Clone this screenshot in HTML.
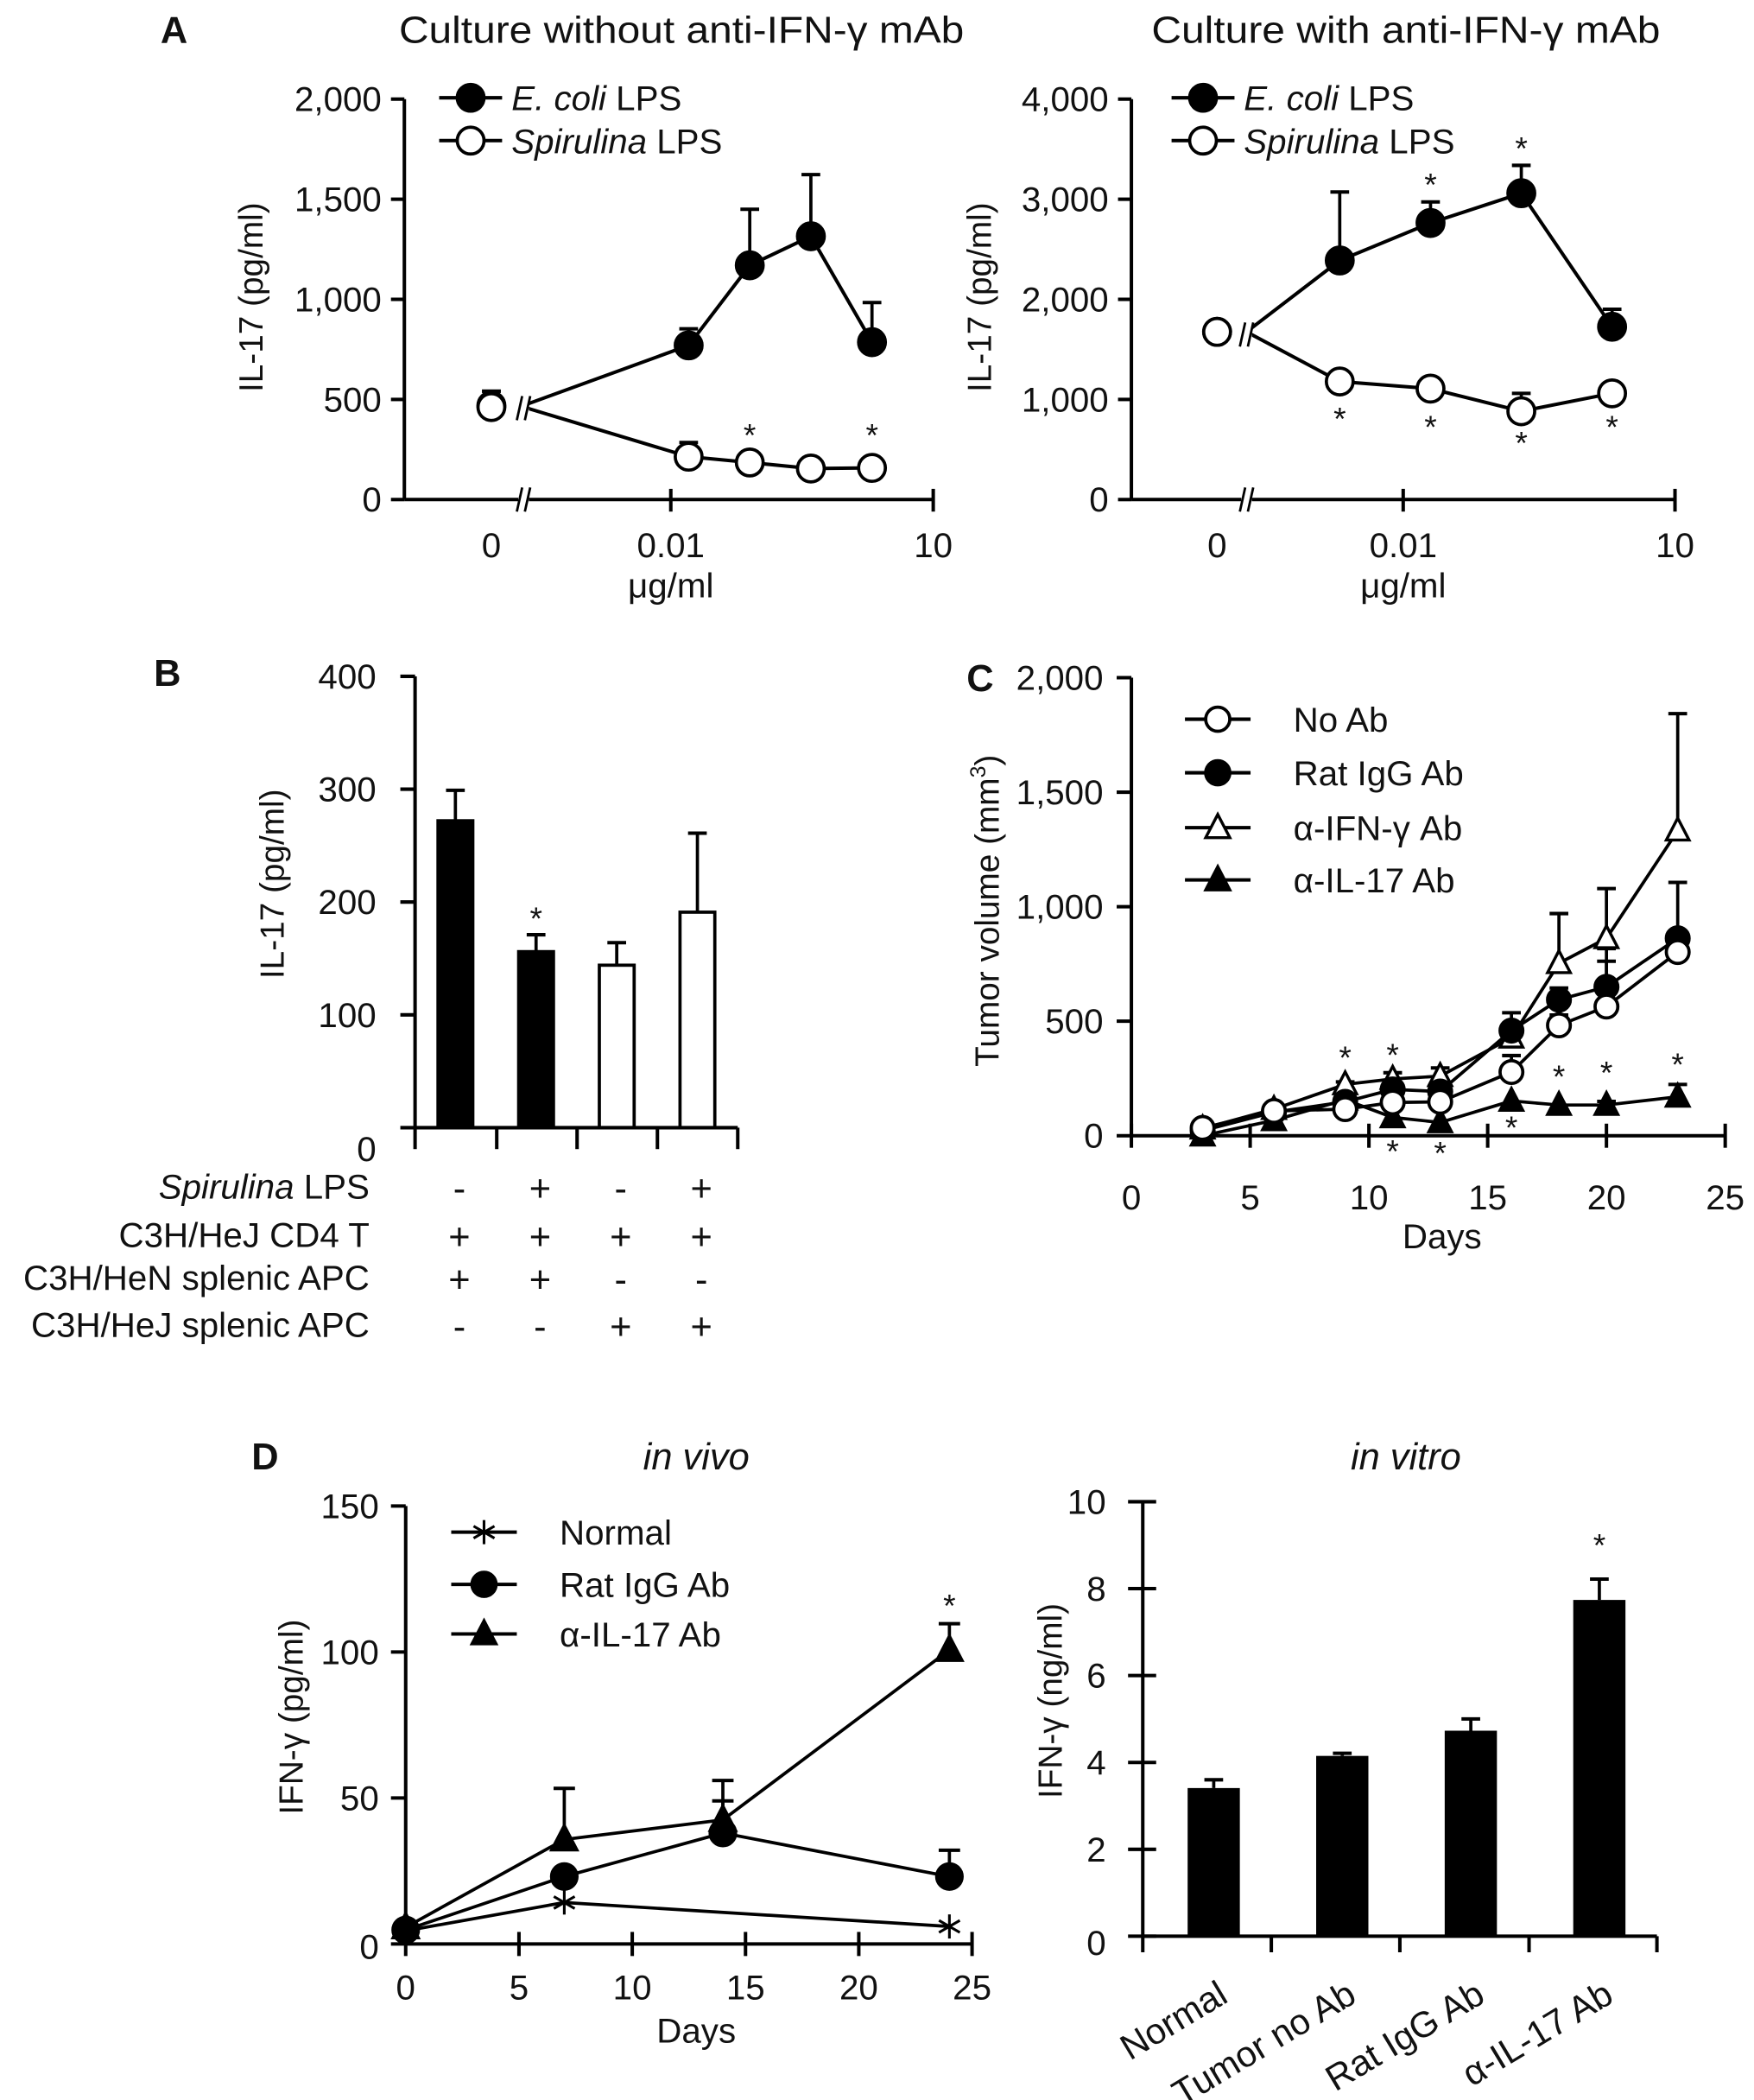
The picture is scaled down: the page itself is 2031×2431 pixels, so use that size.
<!DOCTYPE html>
<html><head><meta charset="utf-8"><style>
html,body{margin:0;padding:0;background:#fff;}
svg{display:block;}
text{font-family:"Liberation Sans",sans-serif;fill:#111;}
</style></head><body>
<svg id="fig" xmlns="http://www.w3.org/2000/svg" width="2031" height="2431" viewBox="0 0 1310 1568"></svg>
<script>
// ---------- Panel A data ----------
const aDoses = [0, 0.016, 0.08, 0.4, 2];
const aLeftEcoli = [470, 770, 1170, 1315, 786];
const aLeftEcoliErr = [541, 853, 1450, 1623, 984];
const aLeftSpir = [462, 214, 185, 155, 158];
const aLeftSpirErr = [541, 285, 185, 194, 158];
const aLeftTicks = [0, 500, 1000, 1500, 2000];
const aLeftTickLabels = ["0", "500", "1,000", "1,500", "2,000"];
const aRightDoses = [0, 0.002, 0.02, 0.2, 2];
const aRightEcoli = [1675, 2388, 2763, 3060, 1726];
const aRightEcoliErr = [1675, 3072, 2973, 3338, 1901];
const aRightSpir = [1675, 1179, 1108, 882, 1061];
const aRightSpirErr = [1675, 1179, 1108, 1061, 1160];
const aRightTicks = [0, 1000, 2000, 3000, 4000];
const aRightTickLabels = ["0", "1,000", "2,000", "3,000", "4,000"];
// ---------- Panel B data ----------
const bValues = [272, 156, 144, 191];
const bErr = [299, 171, 164, 261];
const bFill = ["#000", "#000", "#fff", "#fff"];
const bTicks = [0, 100, 200, 300, 400];
const bRowLabels = ["Spirulina LPS", "C3H/HeJ CD4 T", "C3H/HeN splenic APC", "C3H/HeJ splenic APC"];
const bSigns = [["-","+","-","+"],["+","+","+","+"],["+","+","-","-"],["-","-","+","+"]];
// ---------- Panel C data ----------
const cDays = [3, 6, 9, 11, 13, 16, 18, 20, 23];
const cNoAb = [34, 108, 116, 145, 148, 278, 482, 564, 802];
const cNoAbErr = [34, 108, 116, 145, 148, 350, 527, 762, 802];
const cRat = [22, 103, 148, 202, 193, 459, 594, 650, 862];
const cRatErr = [22, 103, 148, 202, 193, 537, 645, 817, 1106];
const cIfn = [31, 116, 224, 248, 260, 428, 753, 862, 1332];
const cIfnErr = [31, 116, 235, 275, 296, 428, 970, 1079, 1843];
const cIl17 = [0, 67, 157, 80, 58, 152, 134, 134, 170];
const cIl17Err = [0, 67, 157, 80, 58, 152, 134, 150, 224];
const cTicks = [0, 500, 1000, 1500, 2000];
const cTickLabels = ["0", "500", "1,000", "1,500", "2,000"];
const cXTicks = [0, 5, 10, 15, 20, 25];
// ---------- Panel D data ----------
const dDays = [0, 7, 14, 24];
const dNormalDays = [0, 7, 24];
const dNormal = [4.5, 14.2, 6];
const dRat = [4.8, 23.1, 38, 23.1];
const dRatErr = [4.8, 23.1, 49, 32.1];
const dIl17 = [5.7, 35.8, 42.5, 100.7];
const dIl17Err = [5.7, 53.3, 56, 109.7];
const dTicks = [0, 50, 100, 150];
const dXTicks = [0, 5, 10, 15, 20, 25];
const dBarCats = ["Normal", "Tumor no Ab", "Rat IgG Ab", "α-IL-17 Ab"];
const dBarValues = [3.41, 4.15, 4.73, 7.74];
const dBarErr = [3.6, 4.21, 5.0, 8.22];
const dBarTicks = [0, 2, 4, 6, 8, 10];

const FT = 26;   // tick font
const FA = 25;   // axis title font
const FL = 26;   // legend font
const NS = "http://www.w3.org/2000/svg";
const svg = document.getElementById("fig");
function el(tag, attrs, parent) {
  const e = document.createElementNS(NS, tag);
  for (const k in attrs) e.setAttribute(k, attrs[k]);
  (parent || svg).appendChild(e);
  return e;
}
function grp(name) {
  const g = el("g", {});
  
  
  return g;
}
function ln(g, x1, y1, x2, y2, w) {
  return el("line", {x1, y1, x2, y2, stroke: "#000", "stroke-width": w || 2.6}, g);
}
function tx(g, x, y, s, size, anchor, extra) {
  const t = el("text", Object.assign({x, y, "font-size": size, "text-anchor": anchor || "start"}, extra || {}), g);
  t.textContent = s;
  return t;
}
function marker(g, type, x, y, r) {
  if (type === "open" || type === "filled") {
    el("circle", {cx: x, cy: y, r, fill: type === "filled" ? "#000" : "#fff", stroke: "#000", "stroke-width": 2.4}, g);
  } else if (type === "otri" || type === "ftri") {
    const h = r * 1.1;
    el("polygon", {points: `${x},${y - h} ${x - r},${y + h * 0.75} ${x + r},${y + h * 0.75}`, fill: type === "ftri" ? "#000" : "#fff", stroke: "#000", "stroke-width": 2.2}, g);
  } else if (type === "star") {
    for (let a = 0; a < 180; a += 60) {
      const rad = a * Math.PI / 180;
      ln(g, x - r * Math.cos(rad + Math.PI/2), y - r * Math.sin(rad + Math.PI/2), x + r * Math.cos(rad + Math.PI/2), y + r * Math.sin(rad + Math.PI/2), 2);
    }
  }
}
function errBar(g, x, y, yt, cap) {
  if (Math.abs(y - yt) < 0.5) return;
  ln(g, x, y, x, yt, 2.4);
  ln(g, x - cap, yt, x + cap, yt, 2.6);
}
function star(g, x, y) { tx(g, x, y, "*", 24, "middle"); }
function legendItem(g, x1, x2, y, type, r, label, lx, size, italicPart) {
  ln(g, x1, y, x2, y, 2.6);
  marker(g, type, (x1 + x2) / 2, y, r);
  const t = el("text", {x: lx, y: y + size * 0.36, "font-size": size}, g);
  if (italicPart) {
    const a = el("tspan", {"font-style": "italic"}, t); a.textContent = italicPart;
    const b = el("tspan", {}, t); b.textContent = label;
  } else t.textContent = label;
}
function brk(g, x, y) {
  el("rect", {x: x - 4, y: y - 9, width: 8, height: 18, fill: "#fff"}, g);
  ln(g, x - 5, y + 9, x - 1, y - 9, 1.8);
  ln(g, x + 1, y + 9, x + 5, y - 9, 1.8);
}

// ===== Panel A =====
function panelA(name, o) {
  const g = grp(name);
  const ax = o.ax, y0 = o.y0, yTop = o.yTop, max = o.max;
  const ys = v => y0 - v / max * (y0 - yTop);
  const xs = d => d === 0 ? o.x0 : o.x001 + (Math.log10(d) + 2) * o.dec;
  tx(g, o.titleX, 32, o.title, 28, "middle", {textLength: o.titleW, lengthAdjust: "spacingAndGlyphs"});
  tx(g, o.ytx, o.yty, "IL-17 (pg/ml)", FA, "middle", {transform: `rotate(-90 ${o.ytx} ${o.yty})`});
  ln(g, ax, yTop, ax, y0);
  o.ticks.forEach((v, i) => {
    ln(g, ax - 10, ys(v), ax, ys(v));
    tx(g, ax - 17, ys(v) + 9, o.tickLabels[i], FT, "end");
  });
  ln(g, ax, y0, o.xEnd, y0);
  [o.x001, o.xEnd].forEach(x => ln(g, x, y0 - 8, x, y0 + 9));
  brk(g, o.brkX, y0);
  tx(g, o.x0, y0 + 43, "0", FT, "middle");
  tx(g, o.x001, y0 + 43, "0.01", FT, "middle");
  tx(g, o.xEnd, y0 + 43, "10", FT, "middle");
  tx(g, (o.x001), y0 + 73, "μg/ml", FT, "middle");
  [[o.ec, o.ecErr, "filled"], [o.sp, o.spErr, "open"]].forEach(([vals, errs, type]) => {
    const sg = el("g", {}, g);
    
    
    let pts = [[o.brkX, ys(vals[0])]];
    for (let i = 1; i < vals.length; i++) pts.push([xs(o.doses[i]), ys(vals[i])]);
    el("polyline", {points: pts.map(p => p.join(",")).join(" "), fill: "none", stroke: "#000", "stroke-width": 2.6}, sg);
    for (let i = 0; i < vals.length; i++) errBar(sg, xs(o.doses[i]), ys(vals[i]), ys(errs[i]), 7);
    for (let i = 0; i < vals.length; i++) marker(sg, type, xs(o.doses[i]), ys(vals[i]), 10);
  });
  brk(g, o.brkX, ys(o.ec[0]) + 2);
  o.stars.forEach(s => star(g, xs(o.doses[s[0]]), s[1]));
  legendItem(g, o.lx, o.lx + 47, 73, "filled", 10, " LPS", o.lx + 54, FL, "E. coli");
  legendItem(g, o.lx, o.lx + 47, 105, "open", 10, " LPS", o.lx + 54, FL, "Spirulina");
}
tx(svg, 130, 32, "A", 28, "middle", {"font-weight": "bold"});
panelA("panel-a-without-antibody", {ax: 302, y0: 373, yTop: 74, max: 2000, x0: 367, x001: 501, dec: 65.3, xEnd: 697, brkX: 391,
  title: "Culture without anti-IFN-γ mAb", titleX: 509, titleW: 422, ytx: 196, yty: 222, ticks: aLeftTicks, tickLabels: aLeftTickLabels,
  doses: aDoses, ec: aLeftEcoli, ecErr: aLeftEcoliErr, sp: aLeftSpir, spErr: aLeftSpirErr, stars: [[2, 333], [4, 333]], lx: 328});
panelA("panel-a-with-antibody", {ax: 845, y0: 373, yTop: 74, max: 4000, x0: 909, x001: 1048, dec: 67.8, xEnd: 1251, brkX: 931,
  title: "Culture with anti-IFN-γ mAb", titleX: 1050, titleW: 380, ytx: 740, yty: 222, ticks: aRightTicks, tickLabels: aRightTickLabels,
  doses: aRightDoses, ec: aRightEcoli, ecErr: aRightEcoliErr, sp: aRightSpir, spErr: aRightSpirErr,
  stars: [[2, 146], [3, 119], [1, 321], [2, 327], [3, 339], [4, 327]], lx: 875});

// ===== Panel B =====
(function () {
  const g = grp("panel-b-bar-chart");
  const ax = 310, y0 = 842, yTop = 505, max = 400;
  const ys = v => y0 - v / max * (y0 - yTop);
  const tickX = [310, 371, 431, 491, 551];
  const slot = (tickX[4] - tickX[0]) / 4;
  tx(g, 125, 512, "B", 28, "middle", {"font-weight": "bold"});
  ln(g, ax, yTop, ax, y0);
  bTicks.forEach(v => {
    ln(g, ax - 11, ys(v), ax, ys(v));
    tx(g, 281, ys(v) + (v === 0 ? 25 : 9), String(v), FT, "end");
  });
  tx(g, 212, 660, "IL-17  (pg/ml)", FA, "middle", {transform: "rotate(-90 212 660)"});
  bValues.forEach((v, i) => {
    const cx = tickX[0] + slot * (i + 0.5);
    const r = el("rect", {x: cx - 13, y: ys(v), width: 26, height: y0 - ys(v), fill: bFill[i], stroke: "#000", "stroke-width": 2.4}, g);
    
    
    errBar(g, cx, ys(v), ys(bErr[i]), 7);
  });
  star(g, tickX[0] + slot * 1.5, 694);
  ln(g, ax, y0, tickX[4], y0);
  tickX.forEach(x => ln(g, x, y0, x, y0 + 16));
  const rowY = [895, 931, 963, 998];
  bRowLabels.forEach((s, r) => {
    if (r === 0) {
      const t = el("text", {x: 276, y: rowY[r], "font-size": FT, "text-anchor": "end"}, g);
      const a = el("tspan", {"font-style": "italic"}, t); a.textContent = "Spirulina";
      const b = el("tspan", {}, t); b.textContent = " LPS";
    } else tx(g, 276, rowY[r], s, FT, "end");
    bSigns[r].forEach((sg, i) => tx(g, tickX[0] + slot * (i + 0.5) + 3, rowY[r] + 2, sg, 28, "middle"));
  });
})();

// ===== Panel C =====
(function () {
  const g = grp("panel-c-tumor-volume");
  const ax = 845, y0 = 848, yTop = 506, max = 2000, xEnd = 1288.5;
  const ys = v => y0 - v / max * (y0 - yTop);
  const xs = d => ax + d / 25 * (xEnd - ax);
  tx(g, 732, 516, "C", 28, "middle", {"font-weight": "bold"});
  ln(g, ax, yTop, ax, y0);
  cTicks.forEach((v, i) => {
    ln(g, ax - 11, ys(v), ax, ys(v));
    tx(g, 824, ys(v) + 9, cTickLabels[i], FT, "end");
  });
  ln(g, ax, y0, xEnd, y0);
  cXTicks.forEach(d => {
    ln(g, xs(d), y0 - 9, xs(d), y0 + 9);
    tx(g, xs(d), 903, String(d), FT, "middle");
  });
  tx(g, 1077, 932, "Days", FT, "middle");
  const yt = el("text", {x: 746, y: 680, "font-size": FA, "text-anchor": "middle", transform: "rotate(-90 746 680)"}, g);
  yt.textContent = "Tumor volume (mm";
  const sup = el("tspan", {"font-size": 16, dy: -10}, yt); sup.textContent = "3";
  const cl = el("tspan", {dy: 10}, yt); cl.textContent = ")";
  const series = [
    ["no-ab", cNoAb, cNoAbErr, "open"], ["rat-igg", cRat, cRatErr, "filled"],
    ["anti-ifn-gamma", cIfn, cIfnErr, "otri"], ["anti-il-17", cIl17, cIl17Err, "ftri"]];
  series.forEach(([nm, vals, errs, type]) => {
    const sg = el("g", {}, g);
    
    
    el("polyline", {points: vals.map((v, i) => xs(cDays[i]) + "," + ys(v)).join(" "), fill: "none", stroke: "#000", "stroke-width": 2.4}, sg);
    vals.forEach((v, i) => errBar(sg, xs(cDays[i]), ys(v), ys(errs[i]), 7));
  });
  [...series].reverse().forEach(([nm, vals, errs, type]) => {
    vals.forEach((v, i) => marker(g, type, xs(cDays[i]), ys(v), 8.5));
  });
  [[9, 798], [11, 796], [18, 812], [20, 809], [23, 803], [11, 868], [13, 869], [16, 850]].forEach(s => star(g, xs(s[0]), s[1]));
  const ly = [537, 577, 618, 657];
  const lt = ["No Ab", "Rat IgG Ab", "α-IFN-γ Ab", "α-IL-17 Ab"];
  const lm = ["open", "filled", "otri", "ftri"];
  ly.forEach((y, i) => legendItem(g, 885, 934, y, lm[i], 9, lt[i], 966, FL));
})();

// ===== Panel D left =====
(function () {
  const g = grp("panel-d-in-vivo");
  const ax = 303, y0 = 1451.5, yTop = 1124.5, max = 150, xEnd = 726;
  const ys = v => y0 - v / max * (y0 - yTop);
  const xs = d => ax + d / 25 * (xEnd - ax);
  tx(g, 198, 1097, "D", 28, "middle", {"font-weight": "bold"});
  tx(g, 520, 1097, "in vivo", 28, "middle", {"font-style": "italic"});
  ln(g, ax, yTop, ax, y0);
  dTicks.forEach(v => {
    ln(g, ax - 11, ys(v), ax, ys(v));
    tx(g, 283, ys(v) + (v === 0 ? 11 : 9), String(v), FT, "end");
  });
  ln(g, ax, y0, xEnd, y0);
  dXTicks.forEach(d => {
    ln(g, xs(d), y0 - 9, xs(d), y0 + 9);
    tx(g, xs(d), 1493, String(d), FT, "middle");
  });
  tx(g, 520, 1525, "Days", FT, "middle");
  tx(g, 226, 1282, "IFN-γ (pg/ml)", FA, "middle", {transform: "rotate(-90 226 1282)"});
  const series = [["normal", dNormalDays, dNormal, dNormal, "star"], ["rat-igg", dDays, dRat, dRatErr, "filled"], ["anti-il-17", dDays, dIl17, dIl17Err, "ftri"]];
  series.forEach(([nm, days, vals, errs, type]) => {
    const sg = el("g", {}, g);
    
    
    el("polyline", {points: vals.map((v, i) => xs(days[i]) + "," + ys(v)).join(" "), fill: "none", stroke: "#000", "stroke-width": 2.4}, sg);
    vals.forEach((v, i) => errBar(sg, xs(days[i]), ys(v), ys(errs[i]), 8));
    vals.forEach((v, i) => marker(sg, type, xs(days[i]), ys(v), type === "star" ? 9 : 9.5));
  });
  star(g, xs(24), 1207);
  const ly = [1144, 1183, 1220];
  const lt = ["Normal", "Rat IgG Ab", "α-IL-17 Ab"];
  const lm = ["star", "filled", "ftri"];
  ly.forEach((y, i) => legendItem(g, 337, 386, y, lm[i], 9, lt[i], 418, FL));
})();

// ===== Panel D right =====
(function () {
  const g = grp("panel-d-in-vitro");
  const ax = 853.5, y0 = 1445.7, yTop = 1121.3, max = 10;
  const ys = v => y0 - v / max * (y0 - yTop);
  const tickX = [853.5, 949.5, 1045.5, 1142, 1237.5];
  const slot = (tickX[4] - tickX[0]) / 4;
  tx(g, 1050, 1097, "in vitro", 28, "middle", {"font-style": "italic"});
  ln(g, ax, yTop, ax, y0);
  dBarTicks.forEach(v => {
    ln(g, ax - 11, ys(v), ax + 10, ys(v));
    tx(g, 826, ys(v) + (v === 0 ? 14 : 9), String(v), FT, "end");
  });
  tx(g, 793, 1270, "IFN-γ (ng/ml)", FA, "middle", {transform: "rotate(-90 793 1270)"});
  dBarValues.forEach((v, i) => {
    const cx = tickX[0] + slot * (i + 0.5) + 5;
    const r = el("rect", {x: cx - 19.5, y: ys(v), width: 39, height: y0 - ys(v), fill: "#000"}, g);
    
    
    errBar(g, cx, ys(v), ys(dBarErr[i]), 7);
    tx(g, cx + 12, 1494, dBarCats[i], 27, "end", {transform: `rotate(-31 ${cx + 12} 1494)`});
  });
  star(g, tickX[0] + slot * 3.5 + 5, 1162);
  ln(g, ax, y0, tickX[4], y0);
  tickX.forEach(x => ln(g, x, y0, x, y0 + 12));
})();
</script>
</body></html>
